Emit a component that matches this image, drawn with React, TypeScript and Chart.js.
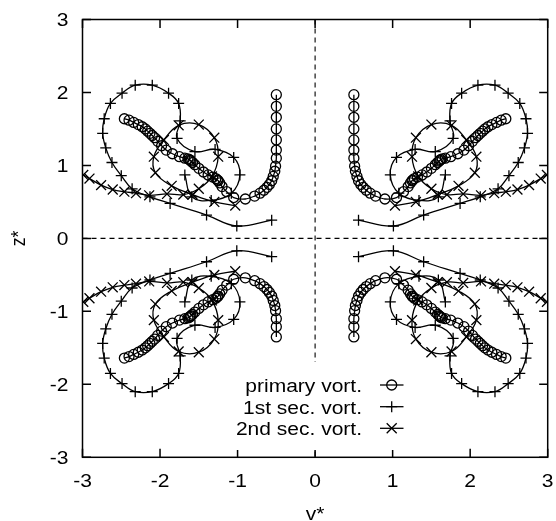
import { useEffect, useRef } from 'react';
import { Chart, registerables } from 'chart.js';

Chart.register(...registerables);

// ---- data (right half; left half is the mirror image v -> -v) ----
const primaryTopV = [0.50, 0.50, 0.50, 0.50, 0.50, 0.50, 0.50, 0.51, 0.52, 0.54, 0.56, 0.59, 0.62, 0.66, 0.71, 0.78, 0.90, 1.05, 1.14, 1.20, 1.23, 1.25, 1.26, 1.28, 1.32, 1.38, 1.44, 1.50, 1.55, 1.58, 1.60, 1.61, 1.62, 1.64, 1.68, 1.75, 1.84, 1.92, 1.98, 2.03, 2.07, 2.10, 2.13, 2.16, 2.19, 2.23, 2.28, 2.34, 2.40, 2.46];
const primaryTopZ = [1.97, 1.81, 1.66, 1.50, 1.35, 1.21, 1.10, 0.99, 0.92, 0.85, 0.79, 0.74, 0.70, 0.66, 0.62, 0.58, 0.54, 0.56, 0.64, 0.71, 0.76, 0.79, 0.80, 0.82, 0.84, 0.87, 0.91, 0.96, 1.01, 1.04, 1.06, 1.07, 1.08, 1.09, 1.10, 1.12, 1.16, 1.21, 1.27, 1.33, 1.38, 1.41, 1.44, 1.47, 1.50, 1.53, 1.56, 1.59, 1.62, 1.64];

const primaryBottomV = [0.50, 0.50, 0.50, 0.51, 0.52, 0.54, 0.56, 0.59, 0.62, 0.66, 0.71, 0.78, 0.90, 1.05, 1.14, 1.20, 1.23, 1.25, 1.26, 1.28, 1.32, 1.38, 1.44, 1.50, 1.55, 1.58, 1.60, 1.61, 1.62, 1.64, 1.68, 1.75, 1.84, 1.92, 1.98, 2.03, 2.07, 2.10, 2.13, 2.16, 2.19, 2.23, 2.28, 2.34, 2.40, 2.46];
const primaryBottomZ = [-1.35, -1.21, -1.10, -0.99, -0.92, -0.85, -0.79, -0.74, -0.70, -0.66, -0.62, -0.58, -0.54, -0.56, -0.64, -0.71, -0.76, -0.79, -0.80, -0.82, -0.84, -0.87, -0.91, -0.96, -1.01, -1.04, -1.06, -1.07, -1.08, -1.09, -1.10, -1.12, -1.16, -1.21, -1.27, -1.33, -1.38, -1.41, -1.44, -1.47, -1.50, -1.53, -1.56, -1.59, -1.62, -1.64];

// 1st secondary vortex (top-right; bottom is the mirror z -> -z)
const sec1V = [0.56, 1.01, 1.40, 1.87, 2.13, 2.36, 2.50, 2.62, 2.70, 2.74, 2.72, 2.64, 2.49, 2.32, 2.10, 1.89, 1.76, 1.74, 1.78, 1.55, 1.29, 1.05, 0.97, 1.08, 1.34, 1.59, 1.68];
const sec1Z = [0.25, 0.17, 0.32, 0.48, 0.57, 0.68, 0.86, 1.04, 1.24, 1.44, 1.64, 1.85, 1.99, 2.10, 2.10, 1.99, 1.85, 1.61, 1.37, 1.19, 1.22, 1.11, 0.87, 0.62, 0.52, 0.57, 0.87];

// 2nd secondary vortex (top-right)
const sec2V = [1.03, 1.30, 1.58, 1.85, 2.06, 2.08, 1.95, 1.76, 1.50, 1.30, 1.25, 1.33, 1.50, 1.70, 1.91, 2.14, 2.31, 2.46, 2.61, 2.76, 2.91, 2.99];
const sec2Z = [0.45, 0.50, 0.60, 0.72, 0.90, 1.12, 1.35, 1.55, 1.56, 1.38, 1.12, 0.85, 0.68, 0.60, 0.61, 0.59, 0.62, 0.64, 0.67, 0.73, 0.82, 0.87];

const tickValues = [-3, -2, -1, 0, 1, 2, 3];
const xTickLabels = ['-3', '-2', '-1', '0', '1', '2', '3'];
const yTickLabels = ['-3', '-2', '-1', '0', '1', '2', '3'];
const xTitle = 'v*';
const yTitle = 'z*';
const seriesLabels = ['primary vort.', '1st sec. vort.', '2nd sec. vort.'];

const FONT = '17.5px "Liberation Sans", Arial, Helvetica, sans-serif';
const SX = 1.2;

function pts(v: number[], z: number[], sv: number, sz: number) {
  return v.map((x, i) => ({ x: sv * x, y: sz * z[i] }));
}

function sText(ctx: CanvasRenderingContext2D, t: string, x: number, y: number, align: CanvasTextAlign) {
  ctx.save();
  ctx.translate(x, y);
  ctx.scale(SX, 1);
  ctx.font = FONT;
  ctx.fillStyle = '#000';
  ctx.textAlign = align;
  ctx.textBaseline = 'alphabetic';
  ctx.fillText(t, 0, 0);
  ctx.restore();
}

function marker(ctx: CanvasRenderingContext2D, kind: number, x: number, y: number) {
  ctx.beginPath();
  if (kind === 0) {
    ctx.arc(x, y, 5, 0, Math.PI * 2);
  } else if (kind === 1) {
    ctx.moveTo(x - 5.5, y); ctx.lineTo(x + 5.5, y);
    ctx.moveTo(x, y - 5.5); ctx.lineTo(x, y + 5.5);
  } else {
    const d = 5;
    ctx.moveTo(x - d, y - d); ctx.lineTo(x + d, y + d);
    ctx.moveTo(x + d, y - d); ctx.lineTo(x - d, y + d);
  }
  ctx.stroke();
}

const framePlugin = {
  id: 'gnuframe',
  beforeDatasetsDraw(chart: any) {
    const { ctx, chartArea: a, scales } = chart;
    const x0 = scales.x.getPixelForValue(0);
    const y0 = scales.y.getPixelForValue(0);
    ctx.save();
    ctx.strokeStyle = '#000';
    ctx.lineWidth = 1.1;
    ctx.setLineDash([5, 4]);
    ctx.beginPath();
    ctx.moveTo(a.left, y0); ctx.lineTo(a.right, y0);
    ctx.moveTo(x0, a.top); ctx.lineTo(x0, a.bottom);
    ctx.stroke();
    ctx.restore();
  },
  afterDatasetsDraw(chart: any) {
    const { ctx, chartArea: a, scales } = chart;
    ctx.save();
    ctx.strokeStyle = '#000';
    ctx.lineWidth = 1.5;
    ctx.setLineDash([]);
    ctx.strokeRect(a.left, a.top, a.right - a.left, a.bottom - a.top);
    const tl = 8.5;
    ctx.beginPath();
    tickValues.forEach((v) => {
      const px = scales.x.getPixelForValue(v);
      const py = scales.y.getPixelForValue(v);
      ctx.moveTo(px, a.bottom); ctx.lineTo(px, a.bottom - tl);
      ctx.moveTo(px, a.top); ctx.lineTo(px, a.top + tl);
      ctx.moveTo(a.left, py); ctx.lineTo(a.left + tl, py);
      ctx.moveTo(a.right, py); ctx.lineTo(a.right - tl, py);
    });
    ctx.stroke();
    tickValues.forEach((v, i) => {
      const px = scales.x.getPixelForValue(v);
      sText(ctx, xTickLabels[i], px, a.bottom + 30, 'center');
      const py = scales.y.getPixelForValue(v);
      sText(ctx, yTickLabels[i], a.left - 14, py + 6.5, 'right');
    });
    // axis titles
    sText(ctx, xTitle, (a.left + a.right) / 2, 519.5, 'center');
    ctx.save();
    ctx.translate(25, (a.top + a.bottom) / 2);
    ctx.scale(SX, 1);
    ctx.rotate(-Math.PI / 2);
    ctx.font = FONT;
    ctx.fillStyle = '#000';
    ctx.textAlign = 'center';
    ctx.textBaseline = 'alphabetic';
    ctx.fillText(yTitle, 0, 0);
    ctx.restore();
    // key (opaque)
    ctx.fillStyle = '#fff';
    ctx.fillRect(228, 362, 184, 88);
    const rows = [385, 406.7, 428.3];
    ctx.lineWidth = 1.3;
    rows.forEach((ry, i) => {
      sText(ctx, seriesLabels[i], 362, ry + 7, 'right');
      ctx.strokeStyle = '#000';
      ctx.beginPath();
      ctx.moveTo(380, ry); ctx.lineTo(403.5, ry);
      ctx.stroke();
      marker(ctx, i, 391.7, ry);
    });
    ctx.restore();
  },
};

export default function App() {
  const ref = useRef<HTMLCanvasElement | null>(null);
  useEffect(() => {
    if (!ref.current) return;
    const common = { showLine: true, borderColor: '#000', borderWidth: 1.3, pointBorderColor: '#000', pointBorderWidth: 1.3, pointBackgroundColor: 'rgba(0,0,0,0)', tension: 0.4, fill: false };
    const pStyle = { ...common, pointStyle: 'circle', pointRadius: 5 };
    const s1Style = { ...common, pointStyle: 'cross', pointRadius: 5.5 };
    const s2Style = { ...common, pointStyle: 'crossRot', pointRadius: 7 };
    const datasets: any[] = [
      { label: seriesLabels[0], data: pts(primaryTopV, primaryTopZ, 1, 1), ...pStyle, tension: 0.3 },
      { label: seriesLabels[0], data: pts(primaryTopV, primaryTopZ, -1, 1), ...pStyle, tension: 0.3 },
      { label: seriesLabels[0], data: pts(primaryBottomV, primaryBottomZ, 1, 1), ...pStyle, tension: 0.3 },
      { label: seriesLabels[0], data: pts(primaryBottomV, primaryBottomZ, -1, 1), ...pStyle, tension: 0.3 },
      { label: seriesLabels[1], data: pts(sec1V, sec1Z, 1, 1), ...s1Style },
      { label: seriesLabels[1], data: pts(sec1V, sec1Z, -1, 1), ...s1Style },
      { label: seriesLabels[1], data: pts(sec1V, sec1Z, 1, -1), ...s1Style },
      { label: seriesLabels[1], data: pts(sec1V, sec1Z, -1, -1), ...s1Style },
      { label: seriesLabels[2], data: pts(sec2V, sec2Z, 1, 1), ...s2Style },
      { label: seriesLabels[2], data: pts(sec2V, sec2Z, -1, 1), ...s2Style },
      { label: seriesLabels[2], data: pts(sec2V, sec2Z, 1, -1), ...s2Style },
      { label: seriesLabels[2], data: pts(sec2V, sec2Z, -1, -1), ...s2Style },
    ];
    const chart = new Chart(ref.current, {
      type: 'scatter',
      data: { datasets },
      options: {
        animation: false,
        responsive: false,
        events: [],
        layout: { padding: { left: 82.5, right: 4.5, top: 19.5, bottom: 63.7 } },
        scales: {
          x: { type: 'linear', min: -3, max: 3, display: false },
          y: { type: 'linear', min: -3, max: 3, display: false },
        },
        plugins: { legend: { display: false }, tooltip: { enabled: false } },
      },
      plugins: [framePlugin],
    } as any);
    return () => chart.destroy();
  }, []);
  return (
    <div style={{ position: 'absolute', left: 0, top: 0, width: 556, height: 521, background: '#fff' }}>
      <canvas ref={ref} width={556} height={521} />
    </div>
  );
}
